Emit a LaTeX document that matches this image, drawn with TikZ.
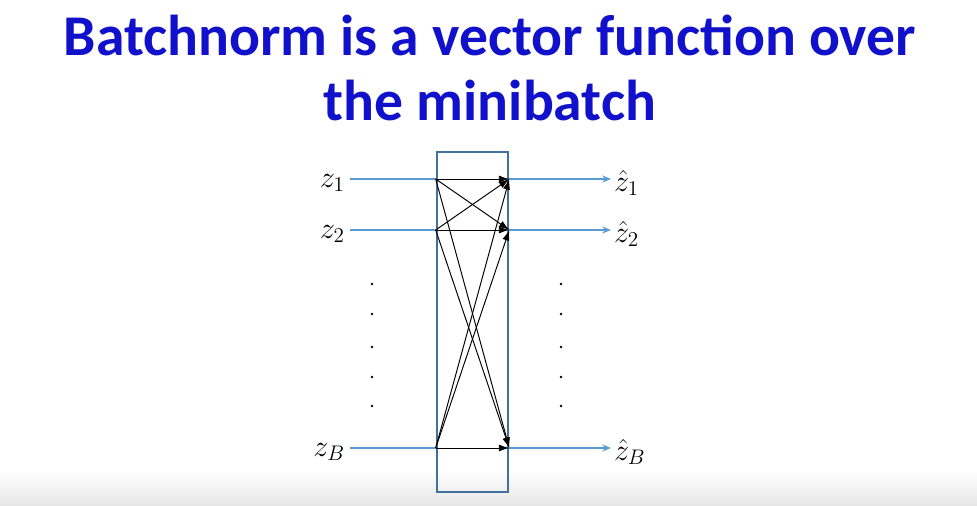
\documentclass[tikz,border=0pt]{standalone}
\usepackage{fontspec}
\setmainfont{Carlito}
\usepackage{tikz}
\usetikzlibrary{arrows.meta,positioning,calc}

\definecolor{titleblue}{RGB}{17,17,204}
\definecolor{boxblue}{RGB}{65,113,156}
\definecolor{lineblue}{RGB}{91,155,213}

\tikzset{
  lbl/.style={inner sep=1pt,font=\fontsize{17}{20}\selectfont},
  box/.style={draw=boxblue,line width=1.5pt,minimum width=1.42cm,minimum height=6.8cm,inner sep=0pt},
  inline/.style={draw=lineblue,line width=0.7pt},
  outline/.style={draw=lineblue,line width=0.7pt,-{Stealth[length=5pt,width=4pt]}},
  mix/.style={draw=black,line width=0.55pt,-{Latex[length=6pt,width=4pt]}},
}

\begin{document}
\begin{tikzpicture}[x=0.02cm,y=-0.02cm]
    \useasboundingbox (0,0) rectangle (977,506);
    % faint grey band at the bottom
    \shade[top color=white,bottom color=black!10] (0,470) rectangle (977,506);

    % Title
    \node[titleblue,font=\fontsize{32.8}{37.5}\selectfont\bfseries,align=center] (title) at (490,68) {Batchnorm is a vector function over\\the minibatch};

    % Box
    \node[box] (bn) at (472.5,322) {};

    % Inputs
    \node[lbl,anchor=east] (z1) at (347,183) {$z_1$};
    \node[lbl,anchor=east] (z2) at (347,234) {$z_2$};
    \node[lbl,anchor=east] (zB) at (347,452) {$z_B$};

    % Outputs
    \node[lbl,anchor=west] (zh1) at (612,183) {$\hat{z}_1$};
    \node[lbl,anchor=west] (zh2) at (612,234) {$\hat{z}_2$};
    \node[lbl,anchor=west] (zhB) at (612,452) {$\hat{z}_B$};

    \coordinate (l1) at (bn.west |- 0,179);
    \coordinate (l2) at (bn.west |- 0,230);
    \coordinate (lB) at (bn.west |- 0,448);
    \coordinate (r1) at (bn.east |- 0,179);
    \coordinate (r2) at (bn.east |- 0,230);
    \coordinate (rB) at (bn.east |- 0,448);
    \coordinate (s1) at (350,179);
    \coordinate (s2) at (350,230);
    \coordinate (sB) at (350,448);
    \coordinate (e1) at (611,179);
    \coordinate (e2) at (611,230);
    \coordinate (eB) at (611,448);

    \foreach \i in {1,2,B} {
        \draw[inline] (s\i) -- (l\i);
        \draw[outline] (r\i) -- (e\i);
        \foreach \j in {1,2,B}
            \draw[mix] (l\i) -- (r\j);
    }

    % Dots
    \foreach \y in {284,314,347,377,406} {
        \fill (372,\y) circle (1.4);
        \fill (561,\y) circle (1.4);
    }
\end{tikzpicture}
\end{document}
